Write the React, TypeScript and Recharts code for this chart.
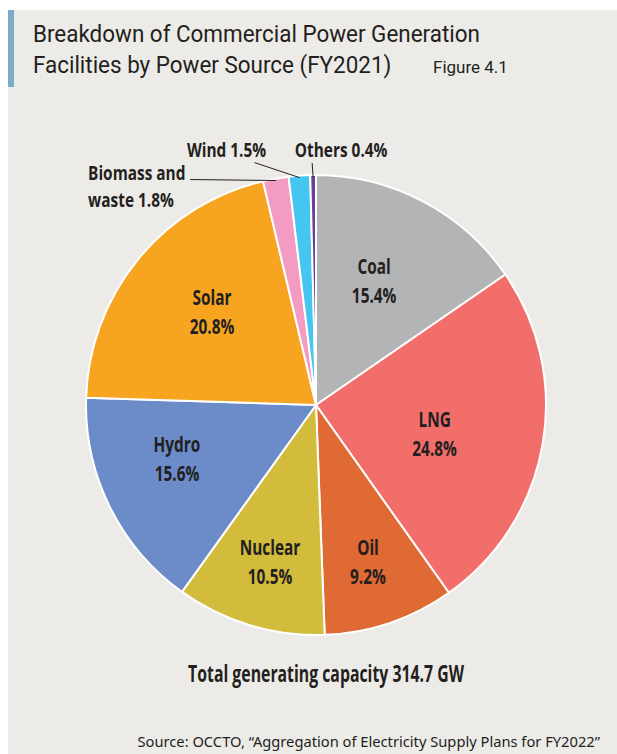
import { PieChart, Pie, Cell } from 'recharts';

const SOURCES = ['Coal', 'LNG', 'Oil', 'Nuclear', 'Hydro', 'Solar', 'Biomass and waste', 'Wind', 'Others'];
const SHARES = [15.4, 24.8, 9.2, 10.5, 15.6, 20.8, 1.8, 1.5, 0.4];
const COLORS = ['#B3B4B6', '#F26E6B', '#E06A33', '#D3BB3C', '#6B8CC9', '#F7A521', '#F49BC3', '#45C6F1', '#6B3F97'];

const TITLE_LINES = ['Breakdown of Commercial Power Generation', 'Facilities by Power Source (FY2021)'];
const FIGURE_NO = 'Figure 4.1';
const TOTAL_TEXT = 'Total generating capacity 314.7 GW';
const SOURCE_TEXT = 'Source: OCCTO, \u201cAggregation of Electricity Supply Plans for FY2022\u201d';

const chartData = SOURCES.map((name, i) => ({ name, value: SHARES[i], color: COLORS[i] }));

const RAD = Math.PI / 180;
const INK = '#231F20';
const COND_FONT = '"Open Sans", sans-serif';
const COND_SIZE = 22;
const COND_SCALE = 0.7;

// where the in-slice labels sit: share of outer radius, plus a small angle nudge (deg)
const INNER_POS: Record<string, { r: number; da: number }> = {
  Coal: { r: 0.6, da: 2.8 },
  LNG: { r: 0.53, da: -3.2 },
  Oil: { r: 0.715, da: -0.3 },
  Nuclear: { r: 0.707, da: 0.3 },
  Hydro: { r: 0.647, da: -5.4 },
  Solar: { r: 0.61, da: -2.9 },
};

// leader lines for the thin slices, offsets from the slice's outer edge
const OUTER: Record<string, { lines: string[]; lx: number; ly: number; tx: number; ty: number; anchor: string }> = {
  'Biomass and waste': { lines: ['Biomass and', 'waste'], lx: -86, ly: -1, tx: -188, ty: -1, anchor: 'start' },
  Wind: { lines: ['Wind'], lx: -45, ly: -15, tx: -73, ty: -21, anchor: 'middle' },
  Others: { lines: ['Others'], lx: -1, ly: -14, tx: 28, ty: -20, anchor: 'middle' },
};

// bold condensed text: a regular bold face squeezed sideways
function CondText({ x, y, lines, anchor = 'middle', gap = 29, size = COND_SIZE, scale = COND_SCALE }: { x: number; y: number; lines: string[]; anchor?: string; gap?: number; size?: number; scale?: number }) {
  return (
    <text
      transform={`translate(${x} ${y}) scale(${scale} 1)`}
      textAnchor={anchor as any}
      style={{ fontFamily: COND_FONT, fontWeight: 700, fontSize: size, fill: INK }}
    >
      {lines.map((l, i) => (
        <tspan key={i} x={0} y={i * gap}>{l}</tspan>
      ))}
    </text>
  );
}

function renderLabel(props: any) {
  const { cx, cy, midAngle, outerRadius, index } = props;
  const name = SOURCES[index];
  const pct = `${SHARES[index].toFixed(1)}%`;

  const p = INNER_POS[name];
  if (p) {
    const a = (midAngle + p.da) * RAD;
    const r = outerRadius * p.r;
    const x = cx + r * Math.cos(-a);
    const y = cy + r * Math.sin(-a);
    return (
      <g key={name}>
        <CondText x={x} y={y - 6} lines={[name, pct]} />
      </g>
    );
  }

  const o = OUTER[name];
  const ax = cx + (outerRadius - 2) * Math.cos(-midAngle * RAD);
  const ay = cy + (outerRadius - 2) * Math.sin(-midAngle * RAD);
  const lines = o.lines.slice();
  lines[lines.length - 1] = `${lines[lines.length - 1]} ${pct}`;
  return (
    <g key={name}>
      <line x1={ax} y1={ay} x2={ax + o.lx} y2={ay + o.ly} stroke={INK} strokeWidth={1} />
      <CondText x={ax + o.tx} y={ay + o.ty} lines={lines} anchor={o.anchor} gap={27.5} size={20} scale={0.77} />
    </g>
  );
}

export default function App() {
  const titleStyle = { fontFamily: 'Roboto, sans-serif', fontSize: 24, fill: INK };
  return (
    <div style={{ position: 'relative', width: 617, height: 754, background: '#fff', overflow: 'hidden' }}>
      <style>{'body{margin:0;overflow:hidden}'}</style>
      <div style={{ position: 'absolute', left: 8, top: 10, width: 609, height: 744, background: '#EDEBE8' }} />
      <div style={{ position: 'absolute', left: 8, top: 10, width: 6, height: 77, background: '#7CADC8' }} />
      <div style={{ position: 'absolute', left: 0, top: 0 }}>
        <PieChart width={617} height={754} margin={{ top: 0, right: 0, bottom: 0, left: 0 }}>
          <Pie
            data={chartData}
            dataKey="value"
            nameKey="name"
            cx={316}
            cy={405}
            outerRadius={230}
            startAngle={90}
            endAngle={-270}
            stroke="#fff"
            strokeWidth={2}
            label={renderLabel}
            labelLine={false}
            isAnimationActive={false}
          >
            {chartData.map((entry, index) => (
              <Cell key={`cell-${index}`} fill={entry.color} />
            ))}
          </Pie>
        </PieChart>
      </div>
      <svg width={617} height={754} style={{ position: 'absolute', left: 0, top: 0, pointerEvents: 'none' }}>
        <text transform="translate(33 42) scale(0.935 1)" style={titleStyle}>
          {TITLE_LINES[0]}
        </text>
        <text transform="translate(33 73) scale(0.935 1)" style={titleStyle}>
          {TITLE_LINES[1]}
        </text>
        <text x={433} y={73} style={{ fontFamily: 'Roboto, sans-serif', fontSize: 17, fill: INK }}>
          {FIGURE_NO}
        </text>
        <CondText x={326} y={682} lines={[TOTAL_TEXT]} size={22.6} />
        <text x={600} y={747} textAnchor="end" style={{ fontFamily: '"Noto Sans", sans-serif', fontSize: 14.7, fill: INK }}>
          {SOURCE_TEXT}
        </text>
      </svg>
    </div>
  );
}
